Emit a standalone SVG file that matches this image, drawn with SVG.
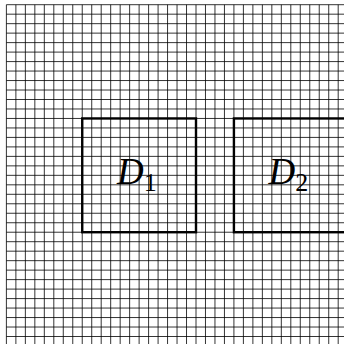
<svg xmlns="http://www.w3.org/2000/svg" width="344" height="344" viewBox="0 0 344 344">
<style>
.grid{fill:none;stroke:#000;stroke-width:0.8}
.box{fill:none;stroke:#000;stroke-width:2.4}
.lbl{font-family:"Liberation Serif","DejaVu Serif",serif;font-style:italic;font-size:37px;fill:#000}
.sub{font-style:normal;font-size:26px}
</style>
<rect width="344" height="344" fill="#fff"/>
<g id="grid">
<path class="grid" d="M6.4 4.7V350M15.88 4.7V350M25.36 4.7V350M34.84 4.7V350M44.32 4.7V350M53.8 4.7V350M63.28 4.7V350M72.76 4.7V350M82.24 4.7V350M91.72 4.7V350M101.2 4.7V350M110.68 4.7V350M120.16 4.7V350M129.64 4.7V350M139.12 4.7V350M148.6 4.7V350M158.08 4.7V350M167.56 4.7V350M177.04 4.7V350M186.52 4.7V350M196 4.7V350M205.48 4.7V350M214.96 4.7V350M224.44 4.7V350M233.92 4.7V350M243.4 4.7V350M252.88 4.7V350M262.36 4.7V350M271.84 4.7V350M281.32 4.7V350M290.8 4.7V350M300.28 4.7V350M309.76 4.7V350M319.24 4.7V350M328.72 4.7V350M338.2 4.7V350
M6.4 4.7H350M6.4 14.18H350M6.4 23.66H350M6.4 33.14H350M6.4 42.62H350M6.4 52.1H350M6.4 61.58H350M6.4 71.06H350M6.4 80.54H350M6.4 90.02H350M6.4 99.5H350M6.4 108.98H350M6.4 118.46H350M6.4 127.94H350M6.4 137.42H350M6.4 146.9H350M6.4 156.38H350M6.4 165.86H350M6.4 175.34H350M6.4 184.82H350M6.4 194.3H350M6.4 203.78H350M6.4 213.26H350M6.4 222.74H350M6.4 232.22H350M6.4 241.7H350M6.4 251.18H350M6.4 260.66H350M6.4 270.14H350M6.4 279.62H350M6.4 289.1H350M6.4 298.58H350M6.4 308.06H350M6.4 317.54H350M6.4 327.02H350M6.4 336.5H350"/>
</g>
<g id="connectors"></g>
<g id="D1">
<rect class="box" x="82.24" y="118.46" width="113.76" height="113.76"/>
<text class="lbl" x="117" y="184">D<tspan class="sub" dy="7">1</tspan></text>
</g>
<g id="D2">
<rect class="box" x="233.92" y="118.46" width="113.76" height="113.76"/>
<text class="lbl" x="268.5" y="184">D<tspan class="sub" dy="7">2</tspan></text>
</g>
</svg>
